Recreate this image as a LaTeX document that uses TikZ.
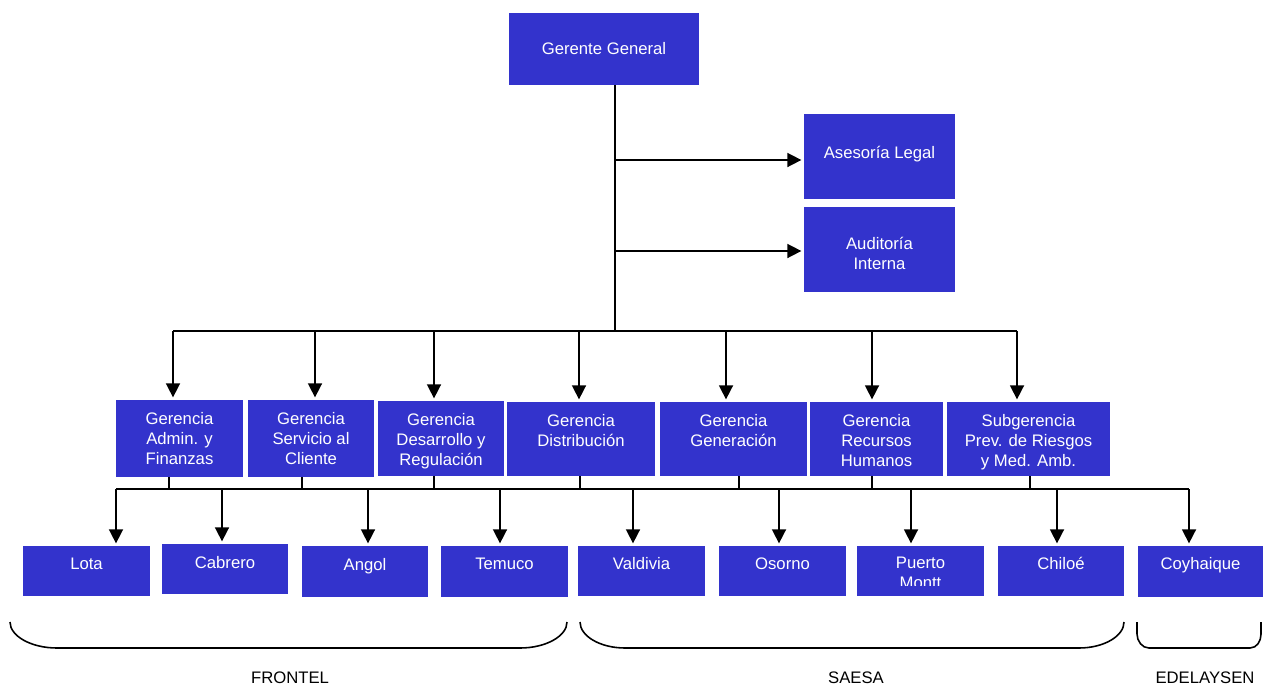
\documentclass[tikz,border=0pt]{standalone}
\usepackage{fontspec}
\setmainfont{Liberation Sans}
\usetikzlibrary{arrows.meta,positioning}
\definecolor{unitblue}{RGB}{51,51,204}

\begin{document}
\begin{tikzpicture}[x=0.02cm,y=-0.02cm,
	unitsize/.style 2 args={minimum width=#1*0.02cm, minimum height=#2*0.02cm}]
	\tikzstyle{unit} = [fill=unitblue, anchor=north west, inner sep=0pt, outer sep=0pt]
	\tikzstyle{unittext} = [text=white, align=center, inner sep=0pt, font=\fontsize{9.5}{11.4}\selectfont]
	\tikzstyle{grouptext} = [inner sep=0pt, font=\fontsize{9.5}{11.4}\selectfont]
	\tikzstyle{link} = [line width=0.9pt]
	\tikzstyle{arr} = [link, -{Triangle[length=8pt,width=8pt]}, shorten >=1.5pt]
	\useasboundingbox (0,0) rectangle (1263,686);

	% top level
	\node[unit, unitsize={190}{72}] (gg) at (509,13) {};
	\node[unit, unitsize={151}{85}] (legal) at (804,114) {};
	\node[unit, unitsize={151}{85}] (audit) at (804,207) {};
	\node[unittext, below=.58cm of gg.north] (gg-t) {Gerente General};
	\node[unittext, below=.64cm of legal.north] (legal-t) {Asesoría Legal};
	\node[unittext, below=.6cm of audit.north] (audit-t) {Auditoría\\Interna};

	% gerencias
	\node[unit, unitsize={127}{77}] (adm) at (116,400) {};
	\node[unit, unitsize={126}{77}] (cli) at (248,400) {};
	\node[unit, unitsize={126}{75}] (des) at (378,401) {};
	\node[unit, unitsize={148}{74}] (dis) at (507,402) {};
	\node[unit, unitsize={147}{74}] (gen) at (660,402) {};
	\node[unit, unitsize={133}{74}] (rrh) at (810,402) {};
	\node[unit, unitsize={163}{74}] (prev) at (947,402) {};
	\node[unittext, below=.24cm of adm.north] (adm-t) {Gerencia\\Admin. y\\Finanzas};
	\node[unittext, below=.24cm of cli.north] (cli-t) {Gerencia\\Servicio al\\Cliente};
	\node[unittext, below=.24cm of des.north] (des-t) {Gerencia\\Desarrollo y\\Regulación};
	\node[unittext, below=.24cm of dis.north] (dis-t) {Gerencia\\Distribución};
	\node[unittext, below=.24cm of gen.north] (gen-t) {Gerencia\\Generación};
	\node[unittext, below=.24cm of rrh.north] (rrh-t) {Gerencia\\Recursos\\Humanos};
	\node[unittext, below=.24cm of prev.north] (prev-t) {Subgerencia\\Prev. de Riesgos\\y Med. Amb.};

	% zonas
	\node[unit, unitsize={127}{50}] (lota) at (23,546) {};
	\node[unit, unitsize={126}{50}] (cab) at (162,544) {};
	\node[unit, unitsize={126}{51}] (ang) at (302,546) {};
	\node[unit, unitsize={127}{51}] (tem) at (441,546) {};
	\node[unit, unitsize={127}{50}] (val) at (578,546) {};
	\node[unit, unitsize={127}{50}] (oso) at (719,546) {};
	\node[unit, unitsize={127}{50}] (pm) at (857,546) {};
	\node[unit, unitsize={126}{50}] (chi) at (998,546) {};
	\node[unit, unitsize={125}{51}] (coy) at (1138,546) {};
	\node[unittext, below=.24cm of lota.north] (lota-t) {Lota};
	\node[unittext, below=.24cm of cab.north] (cab-t) {Cabrero};
	\node[unittext, below=.24cm of ang.north] (ang-t) {Angol};
	\node[unittext, below=.24cm of tem.north] (tem-t) {Temuco};
	\node[unittext, below=.22cm of val.north] (val-t) {Valdivia};
	\node[unittext, below=.22cm of oso.north] (oso-t) {Osorno};
	\begin{scope}
		\clip (857,546) rectangle (984,585);
		\node[unittext, below=.22cm of pm.north] (pm-t) {Puerto\\Montt};
	\end{scope}
	\node[unittext, below=.22cm of chi.north] (chi-t) {Chiloé};
	\node[unittext, below=.22cm of coy.north] (coy-t) {Coyhaique};

	% lines
	\coordinate (hub) at (615,331);
	\coordinate (tapL) at (615,160);
	\coordinate (tapA) at (615,251);
	\draw[link] (615,0 |- gg.south) -- (hub);
	\draw[arr] (tapL) -- (tapL -| legal.west);
	\draw[arr] (tapA) -- (tapA -| audit.west);

	\draw[link] (173,331) -- (1017,331);
	\foreach \n/\x in {adm/173,cli/315,des/434,dis/579,gen/726,rrh/872,prev/1017}
		\draw[arr] (\x,331) -- (\x,0 |- \n.north);

	\foreach \n/\x in {adm/169,cli/302,des/434,dis/580,gen/739,rrh/872,prev/1030}
		\draw[link] (\x,0 |- \n.south) -- (\x,489);
	\draw[link] (116,489) -- (1189,489);
	\foreach \n/\x in {lota/116,cab/222,ang/368,tem/500,val/633,oso/779,pm/911,chi/1057,coy/1189}
		\draw[arr] (\x,489) -- (\x,0 |- \n.north);

	% braces
	\draw[link] (10,622) .. controls (10,636) and (31,648) .. (57,648) -- (520,648)
		.. controls (546,648) and (567,636) .. (567,622);
	\draw[link] (580,622) .. controls (580,636) and (600,648) .. (625,648) -- (1079,648)
		.. controls (1104,648) and (1124,636) .. (1124,622);
	\draw[link] (1137,622) -- (1137,634) .. controls (1137,641) and (1142,648) .. (1149,648) -- (1250,648)
		.. controls (1257,648) and (1261,641) .. (1261,634) -- (1261,622);
	\node[grouptext] (frontel) at (290,678) {FRONTEL};
	\node[grouptext] (saesa) at (856,678) {SAESA};
	\node[grouptext] (edelaysen) at (1205,678) {EDELAYSEN};
\end{tikzpicture}
\end{document}
